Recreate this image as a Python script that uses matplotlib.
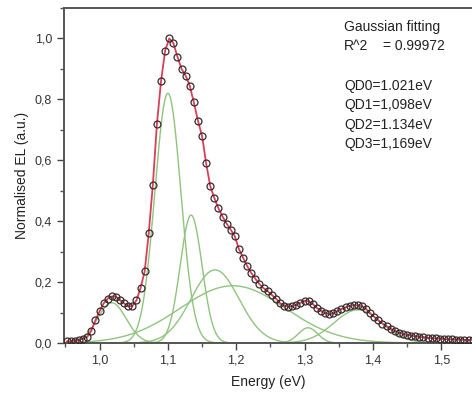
import matplotlib
matplotlib.use("Agg")
import matplotlib.pyplot as plt
import numpy as np
from matplotlib.ticker import MultipleLocator, FuncFormatter

plt.rcParams['font.family'] = ['Liberation Sans', 'DejaVu Sans']

energy = np.round(np.arange(0.952, 1.5465, 0.006), 3)
el = [0.005, 0.006, 0.008, 0.010, 0.014, 0.020, 0.040, 0.075, 0.104, 0.130,
      0.146, 0.153, 0.152, 0.141, 0.130, 0.120, 0.121, 0.140, 0.180, 0.235,
      0.360, 0.520, 0.720, 0.860, 0.960, 1.000, 0.985, 0.940, 0.900, 0.878,
      0.845, 0.790, 0.730, 0.680, 0.590, 0.515, 0.476, 0.442, 0.415, 0.392,
      0.372, 0.350, 0.308, 0.280, 0.253, 0.230, 0.211, 0.193, 0.180, 0.170,
      0.158, 0.146, 0.131, 0.123, 0.119, 0.120, 0.126, 0.132, 0.139, 0.137,
      0.128, 0.115, 0.106, 0.098, 0.094, 0.097, 0.105, 0.112, 0.117, 0.122,
      0.124, 0.124, 0.121, 0.112, 0.098, 0.086, 0.074, 0.064, 0.055, 0.047,
      0.040, 0.034, 0.030, 0.026, 0.024, 0.022, 0.020, 0.019, 0.017, 0.016,
      0.015, 0.014, 0.013, 0.012, 0.012, 0.011, 0.011, 0.010, 0.010, 0.010]

# gaussian components of the fit: centre (eV), height, sigma (eV)
centres = [1.018, 1.100, 1.134, 1.169, 1.195, 1.305, 1.378]
heights = [0.132, 0.820, 0.420, 0.240, 0.188, 0.050, 0.109]
sigmas = [0.021, 0.019, 0.016, 0.035, 0.077, 0.014, 0.035]

fit_lines = ["Gaussian fitting", "QD0=1.021eV", "QD1=1,098eV", "QD2=1.134eV", "QD3=1,169eV"]

fig = plt.figure(figsize=(4.72, 3.96), dpi=100)
ax = fig.add_axes([64 / 472, 53 / 396, (472 - 64) / 472, (343 - 8) / 396])

e_fine = np.linspace(0.948, 1.545, 600)
for c, h, s in zip(centres, heights, sigmas):
    ax.plot(e_fine, h * np.exp(-(e_fine - c) ** 2 / (2 * s ** 2)),
            color='#90c47e', lw=1.0, zorder=2)

ax.plot(energy, el, color='#d8405a', lw=1.3, zorder=3)
ax.plot(energy, el, 'o', mfc='none', mec='#3a2a2a', ms=5.0, mew=0.9, zorder=4)

ax.set_xlim(0.948, 1.545)
ax.set_ylim(0, 1.1)
ax.xaxis.set_major_locator(MultipleLocator(0.1))
ax.xaxis.set_minor_locator(MultipleLocator(0.05))
ax.yaxis.set_major_locator(MultipleLocator(0.2))
ax.yaxis.set_minor_locator(MultipleLocator(0.1))
comma = FuncFormatter(lambda v, p: f"{v:.1f}".replace('.', ','))
ax.xaxis.set_major_formatter(comma)
ax.yaxis.set_major_formatter(comma)
ax.tick_params(which='major', direction='out', length=5, width=1, color='#444',
               labelsize=9, labelcolor='#333')
ax.tick_params(which='minor', direction='out', length=3, width=1, color='#555')
ax.spines['right'].set_visible(False)
for sp in ['left', 'bottom', 'top']:
    ax.spines[sp].set_color('#555')
    ax.spines[sp].set_linewidth(1.4)

ax.set_xlabel("Energy (eV)", fontsize=10, color='#222', labelpad=6)
ax.set_ylabel("Normalised EL (a.u.)", fontsize=10, color='#222', labelpad=4)

tx = 344 / 472
fig.text(tx, 1 - 27 / 396, fit_lines[0], fontsize=10, va='center', color='#222')
fig.text(tx, 1 - 46 / 396, "R^2", fontsize=10, va='center', color='#222')
fig.text(383 / 472, 1 - 46 / 396, "= 0.99972", fontsize=10, va='center', color='#222')
for i, line in enumerate(fit_lines[1:]):
    fig.text(tx, 1 - (86 + 19.3 * i) / 396, line, fontsize=10, va='center', color='#222')

fig.savefig("out.png", dpi=100)
